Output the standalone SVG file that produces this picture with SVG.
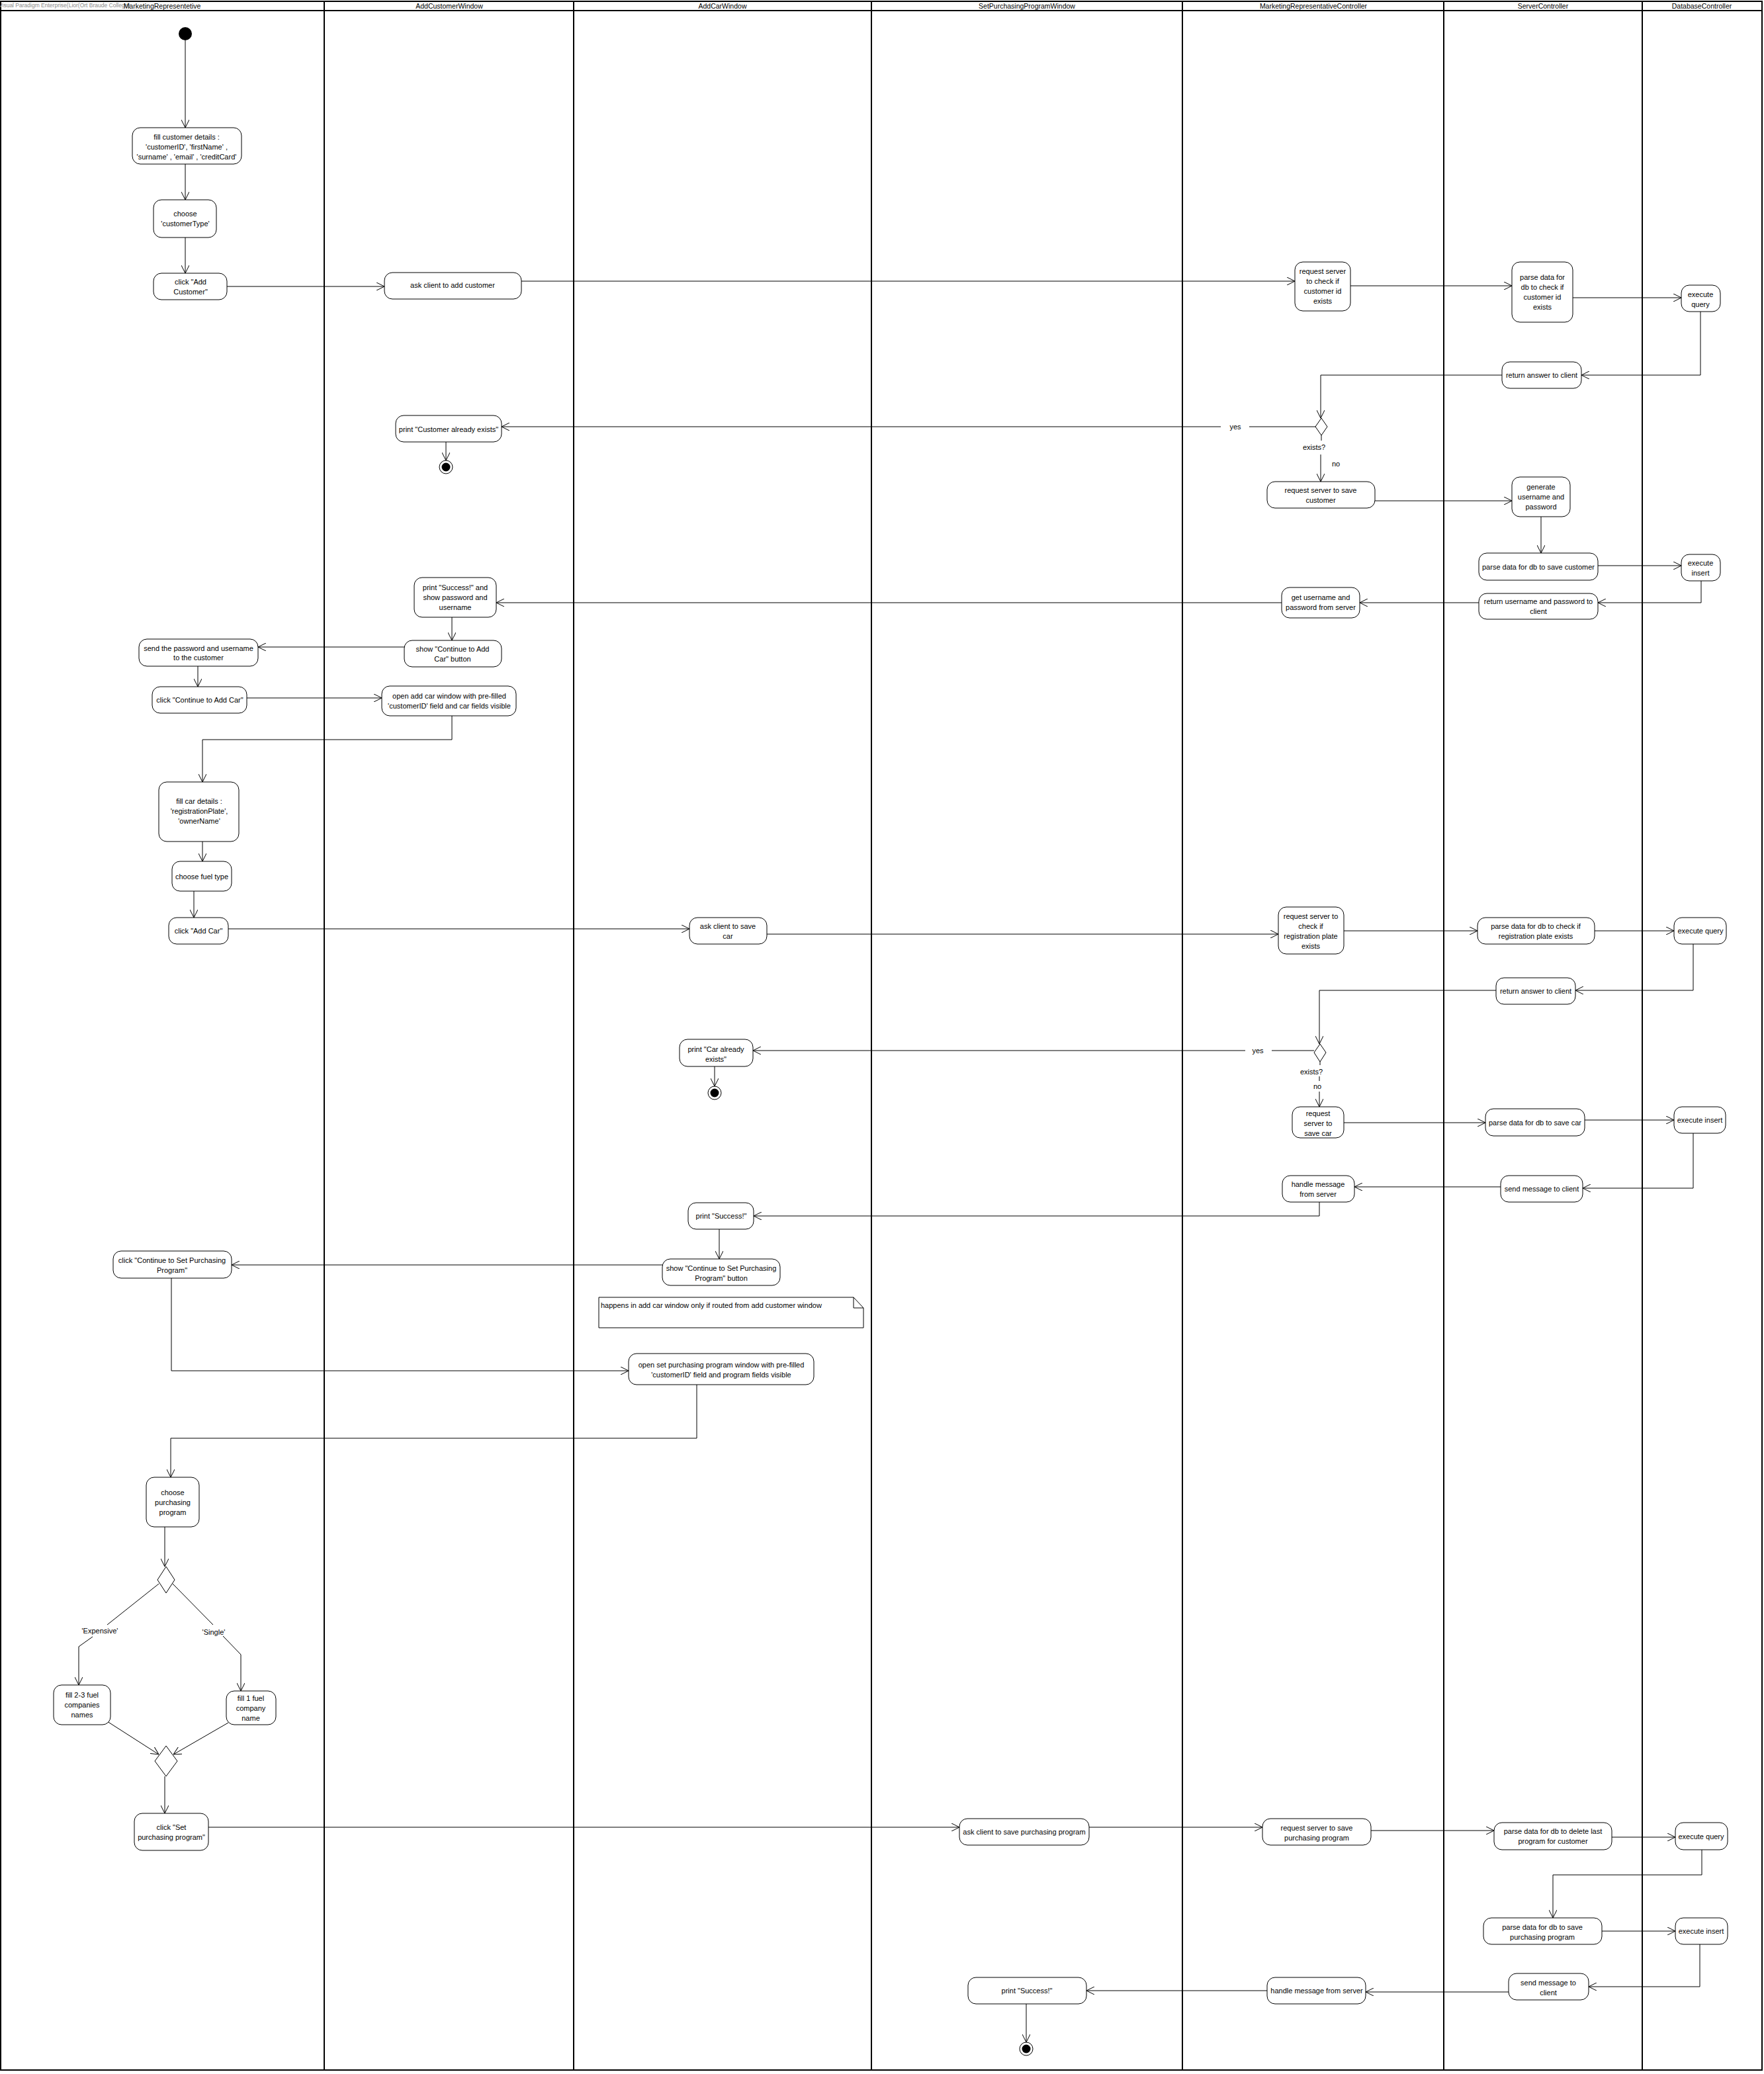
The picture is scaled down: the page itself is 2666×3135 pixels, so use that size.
<svg xmlns="http://www.w3.org/2000/svg" width="2666" height="3135" viewBox="0 0 2666 3135">
<defs>
<marker id="arr" viewBox="0 0 12 12" refX="12" refY="6" markerWidth="12" markerHeight="12" markerUnits="userSpaceOnUse" orient="auto">
<path d="M0,0 L12,6 L0,12" fill="none" stroke="#000" stroke-width="1"/>
</marker>
</defs>
<style>
text{font-family:"Liberation Sans",Arial,sans-serif;font-size:11px;fill:#000;text-anchor:middle}
.hdr{font-size:10.5px}
.wm{font-size:8.5px;fill:#888;text-anchor:start}
.note-t{text-anchor:start}
.act{fill:#fff;stroke:#000;stroke-width:1}
.lane{stroke:#000;stroke-width:2;fill:none}
.c{fill:none;stroke:#000;stroke-width:1}
.ca{fill:none;stroke:#000;stroke-width:1;marker-end:url(#arr)}
.dia{fill:#fff;stroke:#000;stroke-width:1}
</style>
<rect width="2666" height="3135" fill="#fff"/>
<g id="swimlanes">
<rect class="lane" x="1" y="2" width="2662" height="3127"/>
<line class="lane" x1="1" y1="16" x2="2663" y2="16"/>
<line class="lane" x1="490" y1="2" x2="490" y2="3129"/>
<line class="lane" x1="867" y1="2" x2="867" y2="3129"/>
<line class="lane" x1="1317" y1="2" x2="1317" y2="3129"/>
<line class="lane" x1="1787" y1="2" x2="1787" y2="3129"/>
<line class="lane" x1="2182" y1="2" x2="2182" y2="3129"/>
<line class="lane" x1="2482" y1="2" x2="2482" y2="3129"/>
<text class="wm" x="-2" y="11">Visual Paradigm Enterprise(Lior(Ort Braude College)</text>
<text class="hdr" x="245" y="13">MarketingRepresentetive</text>
<text class="hdr" x="679" y="13">AddCustomerWindow</text>
<text class="hdr" x="1092" y="13">AddCarWindow</text>
<text class="hdr" x="1552" y="13">SetPurchasingProgramWindow</text>
<text class="hdr" x="1985" y="13">MarketingRepresentativeController</text>
<text class="hdr" x="2332" y="13">ServerController</text>
<text class="hdr" x="2572" y="13">DatabaseController</text>
</g>
<g id="connectors">
<path class="ca" d="M280,61 L280,193"/>
<path class="ca" d="M280,248 L280,302"/>
<path class="ca" d="M280,359 L280,413"/>
<path class="ca" d="M343,433 L581,433"/>
<path class="ca" d="M788,425 L1957,425"/>
<path class="ca" d="M2041,432 L2285,432"/>
<path class="ca" d="M2377,450 L2541,450"/>
<path class="ca" d="M2570,471 L2570,567 L2390,567"/>
<path class="ca" d="M2270,567 L1996,567 L1996,632"/>
<path class="c" d="M1988,645 L1888,645"/>
<path class="ca" d="M1845,645 L758,645"/>
<path class="ca" d="M674,668 L674,696"/>
<path class="c" d="M1997,658 L1997,666"/>
<path class="ca" d="M1996,687 L1996,728"/>
<path class="ca" d="M2078,757 L2285,757"/>
<path class="ca" d="M2329,781 L2329,836"/>
<path class="ca" d="M2415,855 L2541,855"/>
<path class="ca" d="M2571,878 L2571,911 L2415,911"/>
<path class="ca" d="M2235,911 L2055,911"/>
<path class="ca" d="M1937,911 L750,911"/>
<path class="ca" d="M683,933 L683,968"/>
<path class="ca" d="M611,978 L390,978"/>
<path class="ca" d="M299,1007 L299,1038"/>
<path class="ca" d="M373,1055 L577,1055"/>
<path class="ca" d="M683,1082 L683,1118 L306,1118 L306,1182"/>
<path class="ca" d="M306,1272 L306,1302"/>
<path class="ca" d="M293,1347 L293,1387"/>
<path class="ca" d="M345,1404 L1042,1404"/>
<path class="ca" d="M1159,1412 L1932,1412"/>
<path class="ca" d="M2031,1407 L2233,1407"/>
<path class="ca" d="M2410,1407 L2530,1407"/>
<path class="ca" d="M2559,1427 L2559,1497 L2381,1497"/>
<path class="ca" d="M2261,1497 L1994,1497 L1994,1578"/>
<path class="c" d="M1986,1588 L1922,1588"/>
<path class="ca" d="M1882,1588 L1138,1588"/>
<path class="ca" d="M1080,1612 L1080,1642"/>
<path class="c" d="M1995,1605 L1995,1610"/>
<path class="c" d="M1994,1627 L1994,1634"/>
<path class="ca" d="M1994,1650 L1994,1673"/>
<path class="ca" d="M2031,1697 L2245,1697"/>
<path class="ca" d="M2395,1693 L2530,1693"/>
<path class="ca" d="M2559,1713 L2559,1796 L2392,1796"/>
<path class="ca" d="M2268,1794 L2047,1794"/>
<path class="ca" d="M1994,1817 L1994,1838 L1139,1838"/>
<path class="ca" d="M1087,1858 L1087,1903"/>
<path class="ca" d="M1001,1912 L350,1912"/>
<path class="ca" d="M259,1932 L259,2072 L950,2072"/>
<path class="ca" d="M1053,2093 L1053,2174 L258,2174 L258,2233"/>
<path class="ca" d="M249,2308 L249,2368"/>
<path class="c" d="M240,2394 L162,2456"/>
<path class="ca" d="M140,2474 L119,2489 L119,2547"/>
<path class="c" d="M261,2394 L322,2456"/>
<path class="ca" d="M337,2473 L364,2501 L364,2556"/>
<path class="ca" d="M162,2602 L240,2652"/>
<path class="ca" d="M345,2604 L262,2652"/>
<path class="ca" d="M249,2685 L249,2741"/>
<path class="ca" d="M315,2762 L1450,2762"/>
<path class="ca" d="M1646,2762 L1908,2762"/>
<path class="ca" d="M2072,2767 L2258,2767"/>
<path class="ca" d="M2436,2777 L2532,2777"/>
<path class="ca" d="M2572,2796 L2572,2834 L2347,2834 L2347,2899"/>
<path class="ca" d="M2421,2919 L2532,2919"/>
<path class="ca" d="M2569,2939 L2569,3003 L2401,3003"/>
<path class="ca" d="M2280,3011 L2064,3011"/>
<path class="ca" d="M1915,3009 L1642,3009"/>
<path class="ca" d="M1551,3029 L1551,3087"/>
<text x="1867" y="649">yes</text>
<text x="1986" y="680">exists?</text>
<text x="2019" y="705">no</text>
<text x="1901" y="1592">yes</text>
<text x="1982" y="1624">exists?</text>
<text x="1991" y="1646">no</text>
<text x="151" y="2469">'Expensive'</text>
<text x="323" y="2471">'Single'</text>
</g>
<g id="start"><circle cx="280" cy="51" r="10" fill="#000"/></g>
<g id="fillCustomer"><rect class="act" x="200" y="193" width="165" height="55" rx="12"/><text x="282"><tspan x="282" y="211">fill customer details :</tspan><tspan x="282" y="226">'customerID', 'firstName' ,</tspan><tspan x="282" y="241">'surname' , 'email' , 'creditCard'</tspan></text></g>
<g id="chooseType"><rect class="act" x="232" y="302" width="95" height="57" rx="12"/><text><tspan x="280" y="327">choose</tspan><tspan x="280" y="342">'customerType'</tspan></text></g>
<g id="clickAddCustomer"><rect class="act" x="232" y="413" width="111" height="40" rx="12"/><text><tspan x="288" y="430">click "Add</tspan><tspan x="288" y="445">Customer"</tspan></text></g>
<g id="sendPassword"><rect class="act" x="210" y="966" width="180" height="41" rx="12"/><text><tspan x="300" y="984">send the password and username</tspan><tspan x="300" y="998">to the customer</tspan></text></g>
<g id="clickContinueCar"><rect class="act" x="230" y="1038" width="143" height="40" rx="12"/><text x="302" y="1062">click "Continue to Add Car"</text></g>
<g id="fillCar"><rect class="act" x="240" y="1182" width="121" height="90" rx="12"/><text><tspan x="301" y="1215">fill car details :</tspan><tspan x="301" y="1230">'registrationPlate',</tspan><tspan x="301" y="1245">'ownerName'</tspan></text></g>
<g id="chooseFuel"><rect class="act" x="260" y="1302" width="90" height="45" rx="12"/><text x="305" y="1329">choose fuel type</text></g>
<g id="clickAddCar"><rect class="act" x="255" y="1387" width="90" height="40" rx="12"/><text x="300" y="1411">click "Add Car"</text></g>
<g id="clickContinueSPP"><rect class="act" x="171" y="1891" width="179" height="41" rx="12"/><text><tspan x="260" y="1909">click "Continue to Set Purchasing</tspan><tspan x="260" y="1924">Program"</tspan></text></g>
<g id="choosePP"><rect class="act" x="221" y="2233" width="80" height="75" rx="12"/><text><tspan x="261" y="2260">choose</tspan><tspan x="261" y="2275">purchasing</tspan><tspan x="261" y="2290">program</tspan></text></g>
<g id="decisionProgram"><path class="dia" d="M251,2368 L264,2388 L251,2408 L238,2388 Z"/></g>
<g id="fill23"><rect class="act" x="81" y="2547" width="86" height="60" rx="12"/><text><tspan x="124" y="2566">fill 2-3 fuel</tspan><tspan x="124" y="2581">companies</tspan><tspan x="124" y="2596">names</tspan></text></g>
<g id="fill1"><rect class="act" x="342" y="2556" width="75" height="51" rx="12"/><text><tspan x="379" y="2571">fill 1 fuel</tspan><tspan x="379" y="2586">company</tspan><tspan x="379" y="2601">name</tspan></text></g>
<g id="mergeProgram"><path class="dia" d="M251,2639 L268,2662 L251,2685 L234,2662 Z"/></g>
<g id="clickSetPP"><rect class="act" x="203" y="2741" width="112" height="56" rx="12"/><text><tspan x="259" y="2766">click "Set</tspan><tspan x="259" y="2781">purchasing program"</tspan></text></g>
<g id="askAddCustomer"><rect class="act" x="581" y="412" width="207" height="40" rx="12"/><text x="684" y="435">ask client to add customer</text></g>
<g id="printExists"><rect class="act" x="598" y="628" width="160" height="40" rx="12"/><text x="678" y="653">print "Customer already exists"</text></g>
<g id="final1"><circle cx="674" cy="706" r="10" fill="#fff" stroke="#000"/><circle cx="674" cy="706" r="6.5" fill="#000"/></g>
<g id="printSuccessPw"><rect class="act" x="626" y="873" width="124" height="60" rx="12"/><text><tspan x="688" y="892">print "Success!" and</tspan><tspan x="688" y="907">show password and</tspan><tspan x="688" y="922">username</tspan></text></g>
<g id="showContinueCar"><rect class="act" x="611" y="968" width="147" height="40" rx="12"/><text><tspan x="684" y="985">show "Continue to Add</tspan><tspan x="684" y="1000">Car" button</tspan></text></g>
<g id="openAddCar"><rect class="act" x="577" y="1037" width="203" height="45" rx="12"/><text><tspan x="679" y="1056">open add car window with pre-filled</tspan><tspan x="679" y="1071">'customerID' field and car fields visible</tspan></text></g>
<g id="askSaveCar"><rect class="act" x="1042" y="1387" width="117" height="40" rx="12"/><text><tspan x="1100" y="1404">ask client  to save</tspan><tspan x="1100" y="1419">car</tspan></text></g>
<g id="printCarExists"><rect class="act" x="1027" y="1571" width="111" height="41" rx="12"/><text><tspan x="1082" y="1590">print "Car already</tspan><tspan x="1082" y="1605">exists"</tspan></text></g>
<g id="final2"><circle cx="1080" cy="1652" r="10" fill="#fff" stroke="#000"/><circle cx="1080" cy="1652" r="6.5" fill="#000"/></g>
<g id="printSuccess2"><rect class="act" x="1040" y="1818" width="99" height="40" rx="12"/><text x="1090" y="1842">print "Success!"</text></g>
<g id="showContinueSPP"><rect class="act" x="1001" y="1903" width="178" height="40" rx="12"/><text><tspan x="1090" y="1921">show "Continue to Set Purchasing</tspan><tspan x="1090" y="1936">Program" button</tspan></text></g>
<g id="note"><path fill="#fff" stroke="#000" stroke-width="1" d="M905,1961 L1290,1961 L1305,1977 L1305,2007 L905,2007 Z M1290,1961 L1290,1977 L1305,1977"/><text class="note-t" x="908" y="1977">happens in add car window only if routed from add customer window</text></g>
<g id="openSPP"><rect class="act" x="950" y="2046" width="280" height="47" rx="12"/><text><tspan x="1090" y="2067">open set purchasing program window with pre-filled</tspan><tspan x="1090" y="2082">'customerID' field and program fields visible</tspan></text></g>
<g id="askSavePP"><rect class="act" x="1450" y="2749" width="196" height="40" rx="12"/><text x="1548" y="2773">ask client to save purchasing program</text></g>
<g id="printSuccess3"><rect class="act" x="1463" y="2989" width="179" height="40" rx="12"/><text x="1552" y="3013">print "Success!"</text></g>
<g id="final3"><circle cx="1551" cy="3097" r="10" fill="#fff" stroke="#000"/><circle cx="1551" cy="3097" r="6.5" fill="#000"/></g>
<g id="reqCheckCustomer"><rect class="act" x="1957" y="396" width="84" height="74" rx="12"/><text><tspan x="1999" y="414">request server</tspan><tspan x="1999" y="429">to check if</tspan><tspan x="1999" y="444">customer id</tspan><tspan x="1999" y="459">exists</tspan></text></g>
<g id="decisionCustomer"><path class="dia" d="M1997,632 L2006,645 L1997,658 L1988,645 Z"/></g>
<g id="reqSaveCustomer"><rect class="act" x="1915" y="728" width="163" height="40" rx="12"/><text><tspan x="1996" y="745">request server to save</tspan><tspan x="1996" y="760">customer</tspan></text></g>
<g id="getUserPw"><rect class="act" x="1937" y="888" width="118" height="46" rx="12"/><text><tspan x="1996" y="907">get username and</tspan><tspan x="1996" y="922">password from server</tspan></text></g>
<g id="reqCheckPlate"><rect class="act" x="1932" y="1371" width="99" height="71" rx="12"/><text><tspan x="1981" y="1389">request server to</tspan><tspan x="1981" y="1404">check if</tspan><tspan x="1981" y="1419">registration plate</tspan><tspan x="1981" y="1434">exists</tspan></text></g>
<g id="decisionCar"><path class="dia" d="M1995,1578 L2004,1591 L1995,1605 L1986,1591 Z"/></g>
<g id="reqSaveCar"><rect class="act" x="1953" y="1673" width="78" height="47" rx="12"/><text><tspan x="1992" y="1687">request</tspan><tspan x="1992" y="1702">server to</tspan><tspan x="1992" y="1717">save car</tspan></text></g>
<g id="handleMsgCar"><rect class="act" x="1938" y="1777" width="109" height="40" rx="12"/><text><tspan x="1992" y="1794">handle message</tspan><tspan x="1992" y="1809">from server</tspan></text></g>
<g id="reqSavePP"><rect class="act" x="1908" y="2749" width="164" height="40" rx="12"/><text><tspan x="1990" y="2767">request server to save</tspan><tspan x="1990" y="2782">purchasing program</tspan></text></g>
<g id="handleMsgPP"><rect class="act" x="1915" y="2989" width="149" height="40" rx="12"/><text x="1990" y="3013">handle message from server</text></g>
<g id="parseCheckCustomer"><rect class="act" x="2285" y="396" width="92" height="91" rx="12"/><text><tspan x="2331" y="423">parse data for</tspan><tspan x="2331" y="438">db to check if</tspan><tspan x="2331" y="453">customer id</tspan><tspan x="2331" y="468">exists</tspan></text></g>
<g id="returnAnswer1"><rect class="act" x="2270" y="547" width="120" height="40" rx="12"/><text x="2330" y="571">return answer to client</text></g>
<g id="generate"><rect class="act" x="2285" y="721" width="88" height="60" rx="12"/><text><tspan x="2329" y="740">generate</tspan><tspan x="2329" y="755">username and</tspan><tspan x="2329" y="770">password</tspan></text></g>
<g id="parseSaveCustomer"><rect class="act" x="2235" y="836" width="180" height="41" rx="12"/><text x="2325" y="861">parse data for db to save customer</text></g>
<g id="returnUserPw"><rect class="act" x="2235" y="897" width="180" height="39" rx="12"/><text><tspan x="2325" y="913">return username and password to</tspan><tspan x="2325" y="928">client</tspan></text></g>
<g id="parseCheckPlate"><rect class="act" x="2233" y="1387" width="177" height="40" rx="12"/><text><tspan x="2321" y="1404">parse data for db to check if</tspan><tspan x="2321" y="1419">registration plate exists</tspan></text></g>
<g id="returnAnswer2"><rect class="act" x="2261" y="1478" width="120" height="40" rx="12"/><text x="2321" y="1502">return answer to client</text></g>
<g id="parseSaveCar"><rect class="act" x="2245" y="1676" width="150" height="41" rx="12"/><text x="2320" y="1701">parse data for db to save car</text></g>
<g id="sendMsgCar"><rect class="act" x="2268" y="1777" width="124" height="40" rx="12"/><text x="2330" y="1801">send message to client</text></g>
<g id="parseDeleteLast"><rect class="act" x="2258" y="2755" width="178" height="41" rx="12"/><text><tspan x="2347" y="2772">parse data for db to delete last</tspan><tspan x="2347" y="2787">program for customer</tspan></text></g>
<g id="parseSavePP"><rect class="act" x="2242" y="2899" width="179" height="40" rx="12"/><text><tspan x="2331" y="2917">parse data for db to save</tspan><tspan x="2331" y="2932">purchasing program</tspan></text></g>
<g id="sendMsgPP"><rect class="act" x="2280" y="2983" width="121" height="40" rx="12"/><text><tspan x="2340" y="3001">send message to</tspan><tspan x="2340" y="3016">client</tspan></text></g>
<g id="execQuery1"><rect class="act" x="2541" y="431" width="59" height="40" rx="12"/><text><tspan x="2570" y="449">execute</tspan><tspan x="2570" y="464">query</tspan></text></g>
<g id="execInsert1"><rect class="act" x="2541" y="838" width="59" height="40" rx="12"/><text><tspan x="2570" y="855">execute</tspan><tspan x="2570" y="870">insert</tspan></text></g>
<g id="execQuery2"><rect class="act" x="2530" y="1387" width="79" height="40" rx="12"/><text x="2570" y="1411">execute query</text></g>
<g id="execInsert2"><rect class="act" x="2530" y="1673" width="78" height="40" rx="12"/><text x="2569" y="1697">execute insert</text></g>
<g id="execQuery3"><rect class="act" x="2532" y="2755" width="79" height="41" rx="12"/><text x="2571" y="2780">execute query</text></g>
<g id="execInsert3"><rect class="act" x="2532" y="2899" width="79" height="40" rx="12"/><text x="2571" y="2923">execute insert</text></g>
</svg>
